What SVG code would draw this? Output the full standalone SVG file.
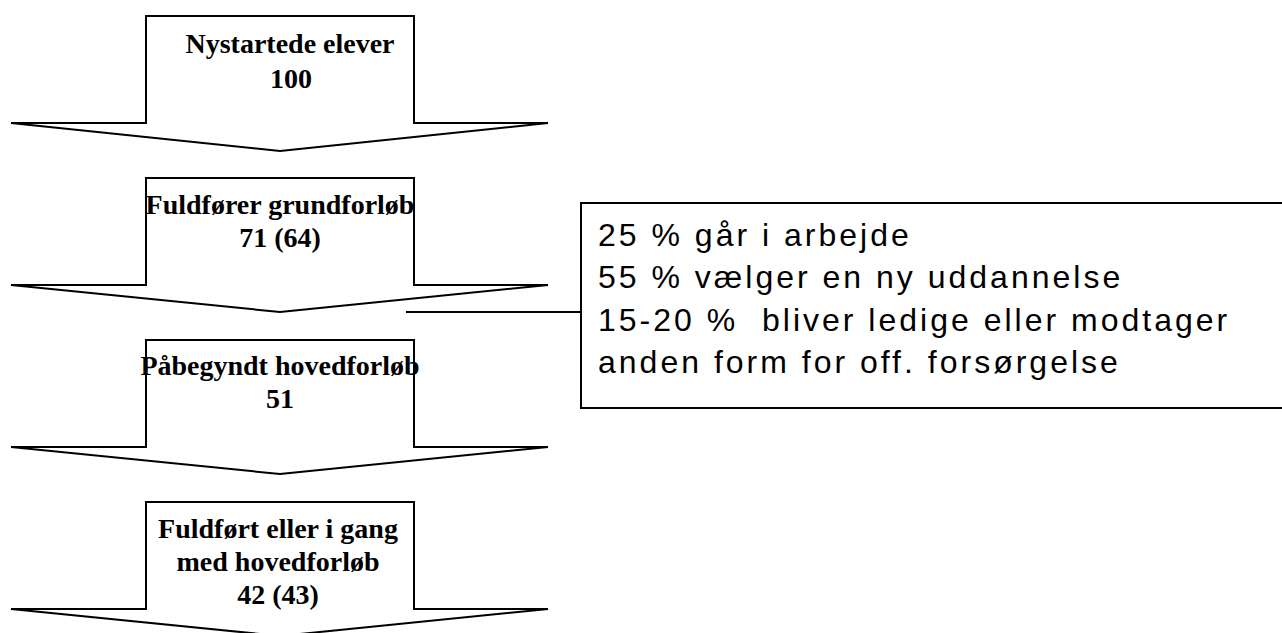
<svg xmlns="http://www.w3.org/2000/svg" width="1282" height="633" viewBox="0 0 1282 633">
<style>
.arrow{fill:#fff;stroke:#000;stroke-width:2;stroke-linejoin:miter}
.lbl{font-family:"Liberation Serif","Times New Roman",serif;font-weight:bold;font-size:28px;fill:#000;text-anchor:middle}
.box{fill:#fff;stroke:#000;stroke-width:2}
.note{font-family:"Liberation Sans",Arial,sans-serif;font-size:32px;letter-spacing:3px;fill:#000;white-space:pre}
</style>
<rect width="1282" height="633" fill="#fff"/>
<g id="connectors">
<line x1="406" y1="312" x2="581" y2="312" stroke="#000" stroke-width="2"/>
</g>
<g id="node1">
<path class="arrow" d="M146,16 H414 V123 H548 L280,151 L11,123 H146 Z"/>
<text class="lbl" x="290" y="53">Nystartede elever</text>
<text class="lbl" x="291" y="88">100</text>
</g>
<g id="node2">
<path class="arrow" d="M146,178 H414 V285 H548 L280,312 L11,285 H146 Z"/>
<text class="lbl" x="280" y="214">Fuldfører grundforløb</text>
<text class="lbl" x="280" y="247">71 (64)</text>
</g>
<g id="node3">
<path class="arrow" d="M146,340 H414 V447 H548 L280,474 L11,447 H146 Z"/>
<text class="lbl" x="280" y="375">Påbegyndt hovedforløb</text>
<text class="lbl" x="280" y="408">51</text>
</g>
<g id="node4">
<path class="arrow" d="M146,502 H414 V609 H548 L280,636 L11,609 H146 Z"/>
<text class="lbl" x="278" y="538">Fuldført eller i gang</text>
<text class="lbl" x="278" y="571">med hovedforløb</text>
<text class="lbl" x="278" y="604">42 (43)</text>
</g>
<g id="callout">
<rect class="box" x="581" y="203" width="720" height="205"/>
<text class="note" x="598" y="246">25 % går i arbejde</text>
<text class="note" x="598" y="288">55 % vælger en ny uddannelse</text>
<text class="note" x="598" y="331" xml:space="preserve">15-20 %  bliver ledige eller modtager</text>
<text class="note" x="598" y="373">anden form for off. forsørgelse</text>
</g>
</svg>
